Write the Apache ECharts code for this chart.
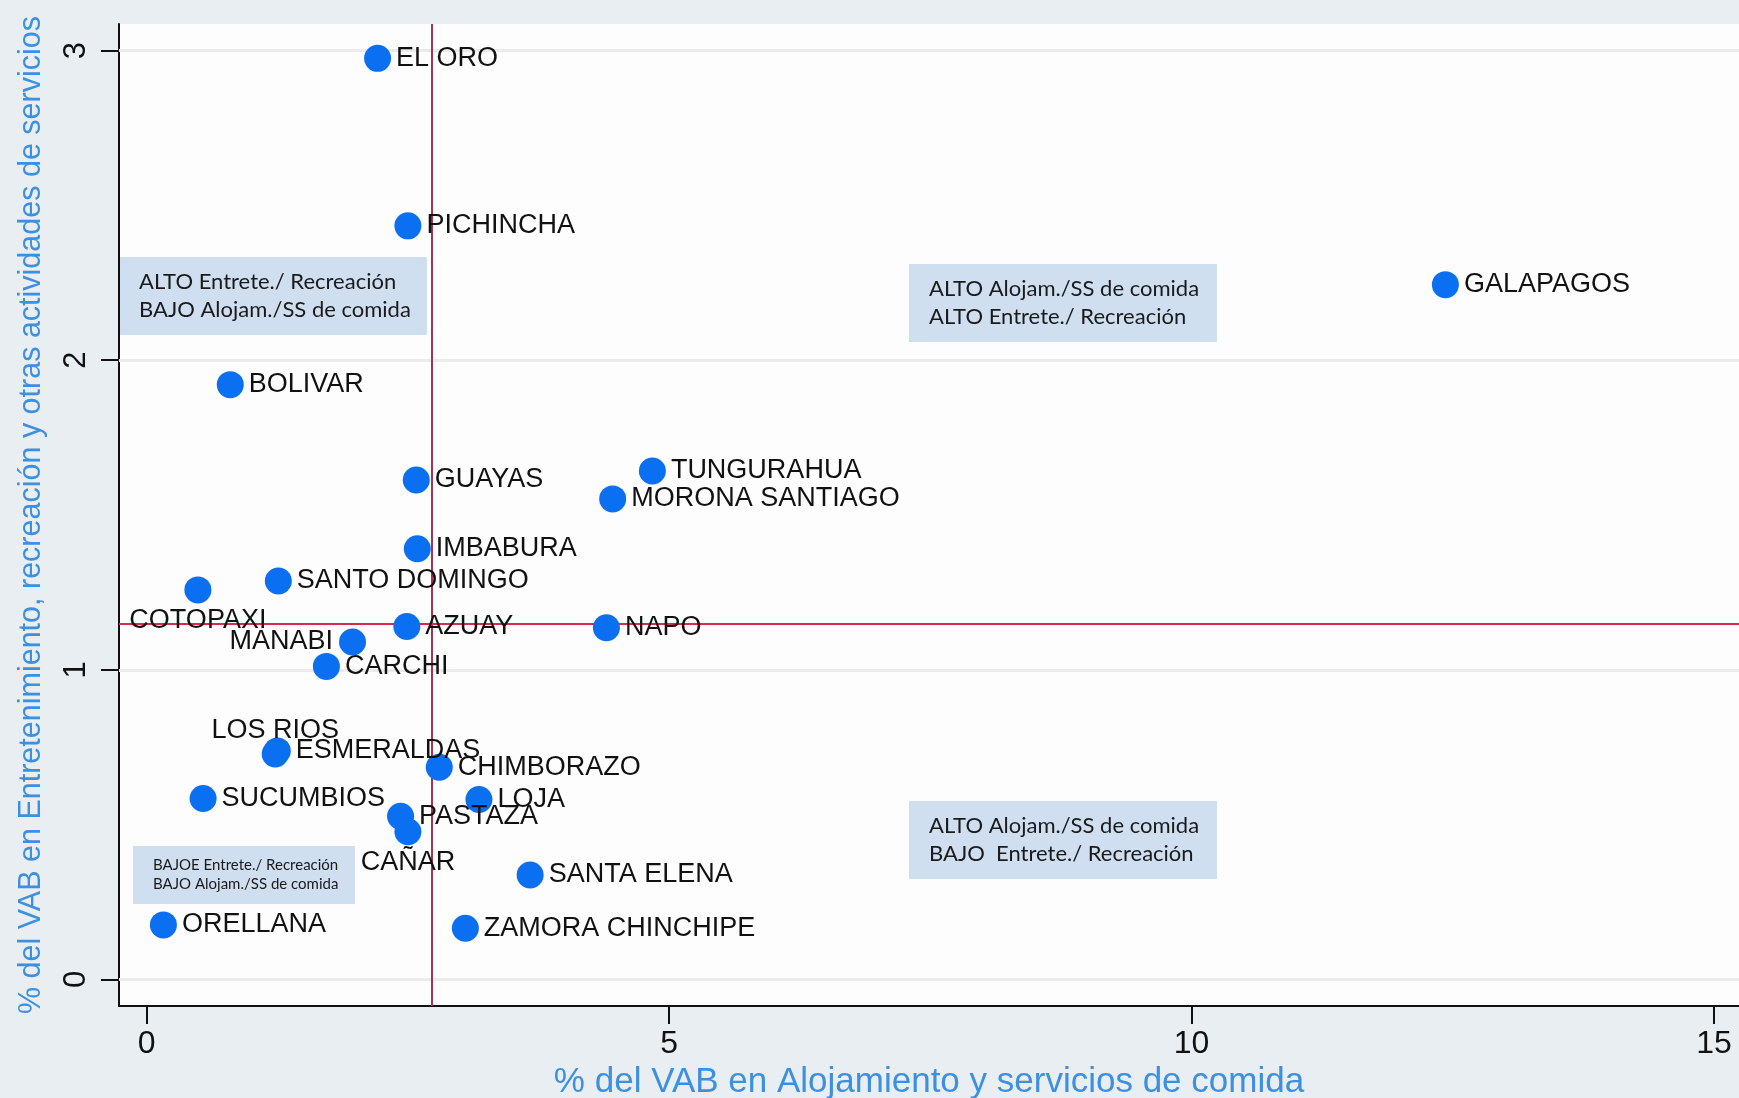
<!DOCTYPE html>
<html>
<head>
<meta charset="utf-8">
<title>VAB Alojamiento vs Entretenimiento</title>
<script src="https://cdn.jsdelivr.net/npm/echarts@6.0.0/dist/echarts.min.js"></script>
<style>
  html, body { margin: 0; padding: 0; background: #e8eef2; }
  #chart { width: 1739px; height: 1098px; }
</style>
</head>
<body>
<div id="chart"></div>
<script>
// provincias y sus porcentajes del VAB
const provinces = [
  "EL ORO", "PICHINCHA", "GALAPAGOS", "BOLIVAR", "GUAYAS", "TUNGURAHUA",
  "MORONA SANTIAGO", "IMBABURA", "SANTO DOMINGO", "COTOPAXI", "AZUAY", "NAPO",
  "MANABI", "CARCHI", "LOS RIOS", "ESMERALDAS", "CHIMBORAZO", "SUCUMBIOS",
  "LOJA", "PASTAZA", "CAÑAR", "SANTA ELENA", "ORELLANA", "ZAMORA CHINCHIPE"
];
const vabAlojamiento = [
  2.21, 2.50, 12.43, 0.80, 2.58, 4.84,
  4.46, 2.59, 1.26, 0.49, 2.49, 4.40,
  1.97, 1.72, 1.23, 1.25, 2.80, 0.54,
  3.18, 2.43, 2.50, 3.67, 0.16, 3.05
];
const vabEntretenimiento = [
  2.975, 2.434, 2.244, 1.921, 1.613, 1.642,
  1.552, 1.391, 1.287, 1.258, 1.140, 1.136,
  1.090, 1.011, 0.728, 0.738, 0.685, 0.584,
  0.581, 0.527, 0.477, 0.337, 0.176, 0.165
];
const xTicks = [0, 5, 10, 15];
const yTicks = [0, 1, 2, 3];
// promedios (líneas de referencia)
const meanAlojamiento = 2.73;
const meanEntretenimiento = 1.15;

// where labels don't sit to the right of the dot
const labelSide = {
  "COTOPAXI": { position: "bottom", distance: 4 },
  "MANABI": { position: "left", distance: 6 },
  "LOS RIOS": { position: "top", distance: -4 },
  "CAÑAR": { position: "bottom", distance: 4 }
};

const quadrantNotes = [
  { x: 119, y: 257, w: 308, h: 78, size: 22, lines: ["ALTO Entrete./ Recreación", "BAJO Alojam./SS de comida"] },
  { x: 909, y: 264, w: 308, h: 78, size: 22, lines: ["ALTO Alojam./SS de comida", "ALTO Entrete./ Recreación"] },
  { x: 909, y: 801, w: 308, h: 78, size: 22, lines: ["ALTO Alojam./SS de comida", "BAJO  Entrete./ Recreación"] },
  { x: 133, y: 846, w: 222, h: 58, size: 15, lines: ["BAJOE Entrete./ Recreación", "BAJO Alojam./SS de comida"] }
];

const chart = echarts.init(document.getElementById("chart"));

const points = provinces.map((name, i) => {
  const item = { name: name, value: [vabAlojamiento[i], vabEntretenimiento[i]] };
  if (labelSide[name]) {
    item.label = labelSide[name];
  }
  return item;
});

const axisFont = "'Liberation Sans', Arial, sans-serif";
const titleColor = "#3d8fe0";

chart.setOption({
  backgroundColor: "#e8eef2",
  animation: false,
  grid: {
    left: 119,
    right: 0,
    top: 24,
    bottom: 92,
    outerBoundsMode: "none",
    containLabel: false,
    show: true,
    backgroundColor: "#fdfdfd",
    borderWidth: 0
  },
  xAxis: {
    type: "value",
    min: -0.265,
    max: 15.24,
    name: "% del VAB en Alojamiento y servicios de comida",
    nameLocation: "middle",
    nameGap: 52,
    nameTextStyle: { color: titleColor, fontSize: 35, fontFamily: axisFont },
    axisLine: { show: true, onZero: false, lineStyle: { color: "#111", width: 2 } },
    axisTick: { show: true, customValues: xTicks, length: 18, lineStyle: { color: "#111", width: 2 } },
    axisLabel: { customValues: xTicks, fontSize: 32, color: "#111", margin: 22, fontFamily: axisFont },
    splitLine: { show: false }
  },
  yAxis: {
    type: "value",
    min: -0.086,
    max: 3.086,
    name: "% del VAB en Entretenimiento, recreación y otras actividades de servicios",
    nameLocation: "middle",
    nameRotate: 90,
    nameGap: 72,
    nameTextStyle: { color: titleColor, fontSize: 30.5, fontFamily: axisFont },
    axisLine: { show: true, onZero: false, lineStyle: { color: "#111", width: 2 } },
    axisTick: { show: true, customValues: yTicks, length: 18, lineStyle: { color: "#111", width: 2 } },
    axisLabel: { customValues: yTicks, rotate: 90, fontSize: 31, color: "#111", margin: 27, fontFamily: axisFont },
    splitLine: { show: false }
  },
  series: [
    {
      // horizontal grid lines
      type: "scatter",
      data: [],
      silent: true,
      z: 1,
      markLine: {
        silent: true,
        z: 1,
        symbol: "none",
        label: { show: false },
        lineStyle: { color: "#ebebeb", width: 3, type: "solid" },
        data: yTicks.map(v => ({ yAxis: v }))
      }
    },
    {
      // mean lines
      type: "scatter",
      data: [],
      silent: true,
      z: 2,
      markLine: {
        silent: true,
        z: 2,
        symbol: "none",
        label: { show: false },
        data: [
          { xAxis: meanAlojamiento, lineStyle: { color: "#a8324f", width: 2, type: "solid" } },
          { yAxis: meanEntretenimiento, lineStyle: { color: "#d82a4c", width: 2, type: "solid" } }
        ]
      }
    },
    {
      type: "scatter",
      z: 10,
      symbolSize: 27,
      itemStyle: { color: "#0b6ff2", opacity: 1 },
      label: {
        show: true,
        position: "right",
        distance: 5,
        offset: [0, 2],
        formatter: "{b}",
        color: "#111",
        fontSize: 27,
        fontFamily: axisFont
      },
      labelLayout: { hideOverlap: false },
      data: points
    }
  ],
  graphic: quadrantNotes.map(n => ({
    type: "group",
    left: n.x,
    top: n.y,
    z: 20,
    children: [
      { type: "rect", shape: { x: 0, y: 0, width: n.w, height: n.h }, style: { fill: "#cfdff0" } },
      {
        type: "text",
        x: 20,
        y: n.h / 2,
        style: {
          text: n.lines.join("\n"),
          fill: "#1a1a1a",
          font: n.size + "px Lato, 'Open Sans', sans-serif",
          lineHeight: Math.round(n.size * 1.25),
          verticalAlign: "middle"
        }
      }
    ]
  }))
});
</script>
</body>
</html>
